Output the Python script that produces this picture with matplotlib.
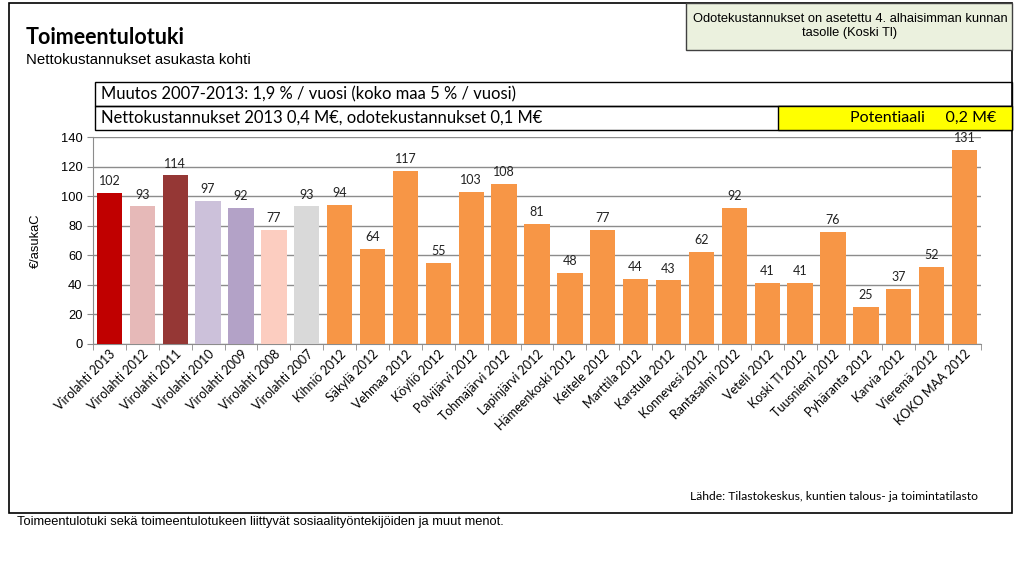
import matplotlib.pyplot as plt
from matplotlib.patches import Rectangle

# Data
kunnat = ['Virolahti 2013', 'Virolahti 2012', 'Virolahti 2011', 'Virolahti 2010',
          'Virolahti 2009', 'Virolahti 2008', 'Virolahti 2007', 'Kihniö 2012',
          'Säkylä 2012', 'Vehmaa 2012', 'Köyliö 2012', 'Polvijärvi 2012',
          'Tohmajärvi 2012', 'Lapinjärvi 2012', 'Hämeenkoski 2012', 'Keitele 2012',
          'Marttila 2012', 'Karstula 2012', 'Konnevesi 2012', 'Rantasalmi 2012',
          'Veteli 2012', 'Koski Tl 2012', 'Tuusniemi 2012', 'Pyhäranta 2012',
          'Karvia 2012', 'Vieremä 2012', 'KOKO MAA 2012']
arvot = [102, 93, 114, 97, 92, 77, 93, 94, 64, 117, 55, 103, 108, 81, 48, 77,
         44, 43, 62, 92, 41, 41, 76, 25, 37, 52, 131]
virolahti_varit = ['#C00000', '#E6B9B8', '#953735', '#CCC1DA', '#B3A2C7', '#FCCDC0', '#D9D9D9']
muu_vari = '#F79646'
varit = virolahti_varit + [muu_vari] * (len(kunnat) - len(virolahti_varit))

W, H = 1023, 561
fig = plt.figure(figsize=(W / 100, H / 100), dpi=100)

def fx(x):
    return x / W

def fy(y):
    return 1 - y / H

def laatikko(x0, y0, x1, y1, fc='none', ec='black', lw=1.0, z=1):
    fig.patches.append(Rectangle((fx(x0), fy(y1)), fx(x1) - fx(x0), fy(y0) - fy(y1),
                                 transform=fig.transFigure, facecolor=fc,
                                 edgecolor=ec, linewidth=lw, zorder=z))

# Outer frame and info boxes
laatikko(9, 3, 1012, 513, lw=1.2)
laatikko(686, 3, 1012, 50, fc='#EBF1DE', ec='#404040', lw=1.0)
laatikko(95, 82, 1012, 106, lw=1.0)
laatikko(95, 106, 1012, 130, lw=1.0)
laatikko(778, 106, 1012, 130, fc='#FFFF00', lw=1.0)

fig.text(fx(26), fy(37), 'Toimeentulotuki', fontsize=15.5, fontweight='bold',
         family='Lato', va='center', ha='left')
fig.text(fx(26), fy(60), 'Nettokustannukset asukasta kohti', fontsize=10.8,
         family='Liberation Sans', va='center', ha='left')
fig.text(fx(850), fy(26), 'Odotekustannukset on asetettu 4. alhaisimman kunnan\ntasolle (Koski Tl)',
         fontsize=9.3, family='Liberation Sans', va='center', ha='center', linespacing=1.3)
fig.text(fx(101), fy(94), 'Muutos 2007-2013: 1,9 % / vuosi (koko maa 5 % / vuosi)',
         fontsize=11.9, family='Lato', va='center', ha='left')
fig.text(fx(101), fy(118), 'Nettokustannukset 2013 0,4 M€, odotekustannukset 0,1 M€',
         fontsize=11.9, family='Lato', va='center', ha='left')
fig.text(fx(996), fy(118), 'Potentiaali     0,2 M€', fontsize=11.5,
         family='Lato', va='center', ha='right')
fig.text(fx(978), fy(496), 'Lähde: Tilastokeskus, kuntien talous- ja toimintatilasto',
         fontsize=8.7, family='Lato', va='center', ha='right')
fig.text(fx(17), fy(522), 'Toimeentulotuki sekä toimeentulotukeen liittyvät sosiaalityöntekijöiden ja muut menot.',
         fontsize=9.3, family='Liberation Sans', va='center', ha='left')

# Chart
ax = fig.add_axes([fx(93), fy(344), fx(981) - fx(93), fy(137) - fy(344)])
x = range(len(kunnat))
palkit = ax.bar(x, arvot, width=0.77, color=varit, zorder=3)
for p, v in zip(palkit, arvot):
    ax.text(p.get_x() + p.get_width() / 2, v + 4, str(v), ha='center', va='bottom',
            fontsize=9, family='Lato', color='#222222', zorder=4)

ax.set_xlim(-0.5, len(kunnat) - 0.5)
ax.set_ylim(0, 140)
ax.set_yticks(range(0, 141, 20))
ax.yaxis.grid(True, color='#8C8C8C', linewidth=1.0, zorder=0)
ax.set_axisbelow(True)
for s in ['top', 'right']:
    ax.spines[s].set_visible(False)
ax.spines['left'].set_color('#8C8C8C')
ax.spines['bottom'].set_color('#8C8C8C')
ax.set_xticks([i - 0.5 for i in range(len(kunnat) + 1)], minor=True)
ax.set_xticks(list(x))
ax.tick_params(axis='x', which='major', length=0, pad=3)
ax.tick_params(axis='x', which='minor', length=4, color='#8C8C8C')
ax.tick_params(axis='y', length=4, color='#8C8C8C', labelsize=9.3)
ax.set_xticklabels(kunnat, rotation=45, ha='right', rotation_mode='anchor',
                   fontsize=9, family='Lato')
for t in ax.get_yticklabels():
    t.set_family('Liberation Sans')
ax.set_ylabel('€/asukaC', fontsize=9.3, family='Liberation Sans', labelpad=14)

fig.savefig('out.png', dpi=100)
